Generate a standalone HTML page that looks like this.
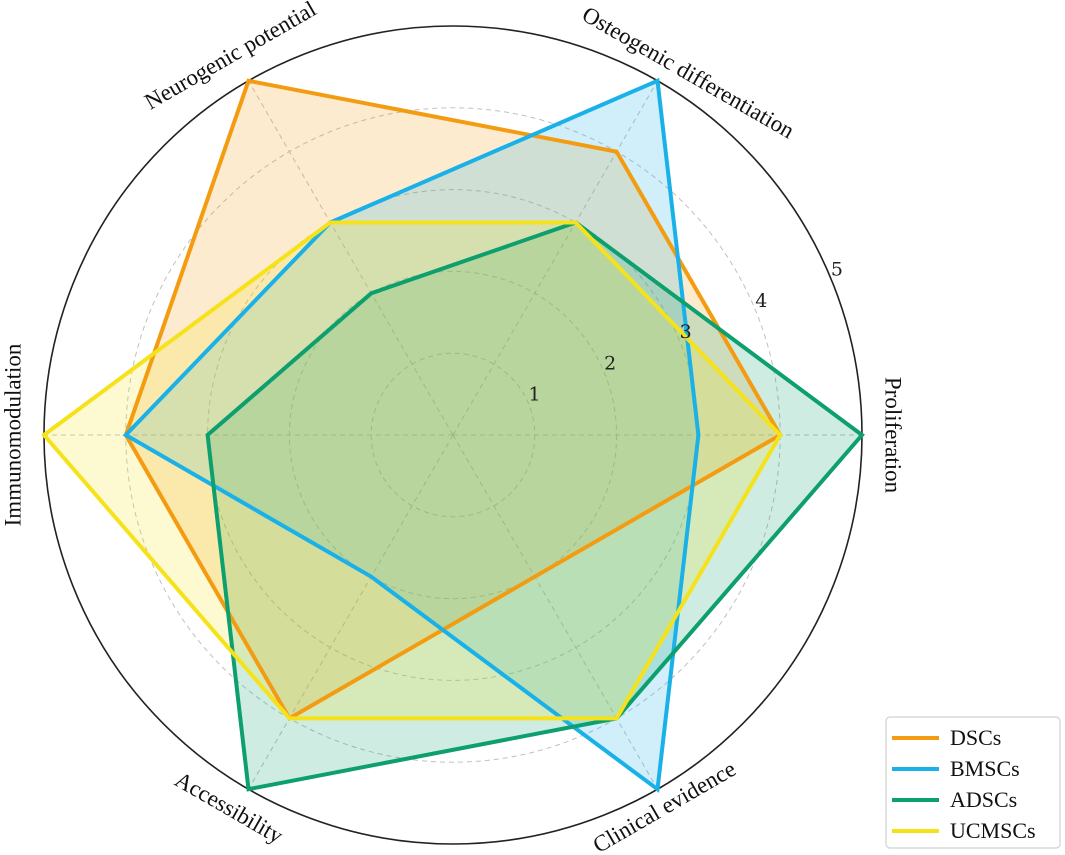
<!DOCTYPE html>
<html><head><meta charset="utf-8"><style>
body{margin:0;background:#fff;}
svg{display:block;font-family:"Liberation Serif","DejaVu Serif",serif;}
</style></head><body>
<svg id="chart" width="1065" height="855">
<g id="grid"></g>
<g id="series"></g>
<g id="labels"></g>
<g>
<rect x="886" y="717" width="174" height="131" rx="4" fill="#fff" stroke="#d0d0d0" stroke-width="1.2"/>
<g id="legend"></g>
</g>
</svg>
<script>
const categories=["Proliferation","Osteogenic differentiation","Neurogenic potential","Immunomodulation","Accessibility","Clinical evidence"];
const seriesNames=["DSCs","BMSCs","ADSCs","UCMSCs"];
const dscs=[4,4,5,4,4,2];
const bmscs=[3,5,3,4,2,5];
const adscs=[5,3,2,3,5,4];
const ucmscs=[4,3,3,5,4,4];
const rTicks=[1,2,3,4,5];
const colors=["#F39C12","#1AB0E8","#0E9F6E","#F5E21B"];
const allSeries=[dscs,bmscs,adscs,ucmscs];
const NS="http://www.w3.org/2000/svg";
const cx=453,cy=435,R=409,maxV=5;
function rad(v){return v/maxV*R;}
function ang(i){return i*2*Math.PI/categories.length;}
function pt(i,v){return [cx+rad(v)*Math.cos(ang(i)),cy-rad(v)*Math.sin(ang(i))];}
function mk(tag,attrs,parent){const e=document.createElementNS(NS,tag);for(const k in attrs)e.setAttribute(k,attrs[k]);parent.appendChild(e);return e;}
const grid=document.getElementById('grid');
rTicks.forEach((t,k)=>{
 const c=mk('circle',{cx:cx,cy:cy,r:rad(t),fill:'none',stroke:t===maxV?'#222':'#c0c0c0','stroke-width':t===maxV?1.6:1,'stroke-dasharray':t===maxV?'none':'5,4'},grid);
 
 
});
categories.forEach((c,i)=>{
 const p=pt(i,maxV);
 const l=mk('line',{x1:cx,y1:cy,x2:p[0],y2:p[1],stroke:'#c0c0c0','stroke-width':1,'stroke-dasharray':'5,4'},grid);
 
 
});
const sg=document.getElementById('series');
allSeries.forEach((s,j)=>{
 const pts=s.map((v,i)=>pt(i,v).join(',')).join(' ');
 const f=mk('polygon',{points:pts,fill:colors[j],'fill-opacity':0.2,stroke:'none'},sg);
 
 
});
allSeries.forEach((s,j)=>{
 const pts=s.map((v,i)=>pt(i,v).join(',')).join(' ');
 const l=mk('polygon',{points:pts,fill:'none',stroke:colors[j],'stroke-width':4,'stroke-linejoin':'miter'},sg);
 
 
});
rTicks.forEach(t=>{
 const a=22.5*Math.PI/180;
 const tx=mk('text',{x:cx+rad(t)*Math.cos(a)+6,y:cy-rad(t)*Math.sin(a)-3,'font-size':19,'font-family':'DejaVu Serif, serif','text-anchor':'middle',fill:'#222'},grid.parentNode);
 tx.textContent=t;
 
 
});
const lg=document.getElementById('labels');
const rots=[90,30,-30,-90,30,-30];
const lr=[438,430,438,438,437,430];
const la=[0,57,120.4,180,239,299.6];
categories.forEach((c,i)=>{
 const a=la[i]*Math.PI/180;
 const p=[cx+lr[i]*Math.cos(a),cy-lr[i]*Math.sin(a)];
 const t=mk('text',{x:p[0],y:p[1],'font-size':23,'text-anchor':'middle','dominant-baseline':'middle',fill:'#111',transform:`rotate(${rots[i]} ${p[0]} ${p[1]})`},lg);
 t.textContent=c;
 
 
});
const leg=document.getElementById('legend');
seriesNames.forEach((n,j)=>{
 const y=738+j*31;
 const l=mk('line',{x1:892,y1:y,x2:939,y2:y,stroke:colors[j],'stroke-width':4},leg);
 
 
 const t=mk('text',{x:950,y:y+7,'font-size':22,fill:'#111'},leg);
 t.textContent=n;
 
 
});
</script>
</body></html>
